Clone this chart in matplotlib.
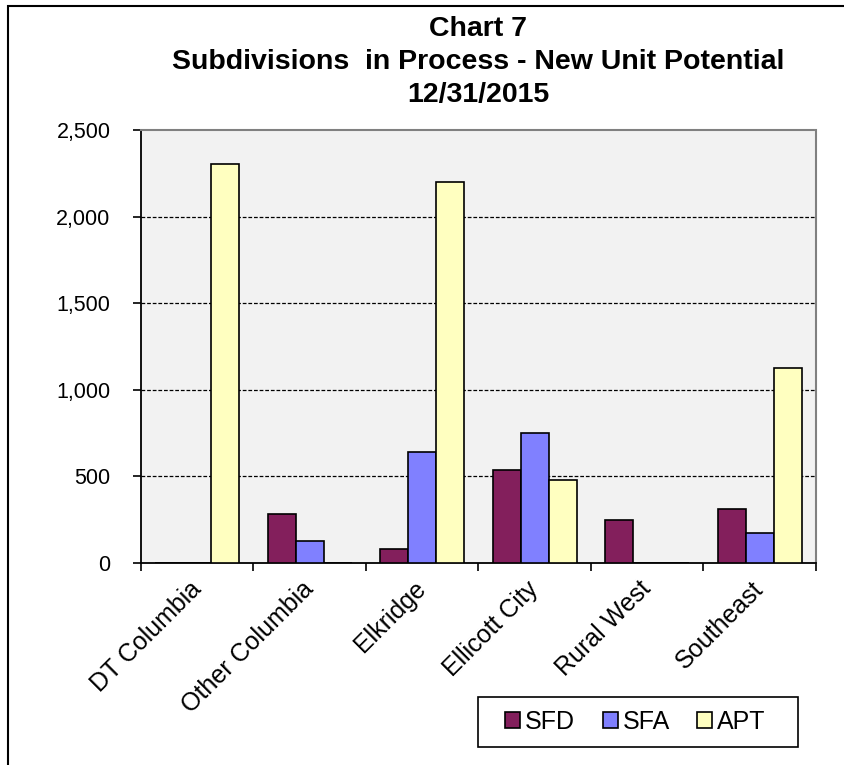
import matplotlib
matplotlib.use("Agg")
import matplotlib.pyplot as plt
import numpy as np
from matplotlib.patches import Rectangle
from matplotlib.ticker import FuncFormatter, FixedLocator

plt.rcParams['font.family'] = ['Liberation Sans', 'DejaVu Sans']

categories = ["DT Columbia", "Other Columbia", "Elkridge", "Ellicott City", "Rural West", "Southeast"]
sfd = [0, 285, 80, 537, 248, 313]
sfa = [0, 127, 639, 749, 0, 173]
apt = [2305, 0, 2198, 479, 0, 1128]
series_names = ["SFD", "SFA", "APT"]
series_colors = ["#831F5C", "#8080FF", "#FFFFC0"]
y_ticks = [0, 500, 1000, 1500, 2000, 2500]

W, H = 845, 765
fig = plt.figure(figsize=(W / 100, H / 100), dpi=100)
ax = fig.add_axes([141 / W, 1 - 563 / H, (816 - 141) / W, (563 - 130) / H])
ax.set_facecolor("#F2F2F2")

x = np.arange(len(categories))
bw = 0.25
for i, (vals, name, col) in enumerate(zip([sfd, sfa, apt], series_names, series_colors)):
    ax.bar(x + (i - 1) * bw, vals, width=bw, color=col, edgecolor="black",
           linewidth=1.2, label=name, zorder=3)

ax.set_xlim(-0.5, len(categories) - 0.5)
ax.set_ylim(0, 2500)
ax.set_yticks(y_ticks)
ax.yaxis.set_major_formatter(FuncFormatter(lambda v, p: f"{int(v):,}"))
for yv in y_ticks[1:-1]:
    ax.axhline(yv, color="black", linestyle=(0, (3, 1.5)), linewidth=0.9, zorder=1)

# category boundaries carry the tick marks, labels sit at the centers
ax.set_xticks(x)
ax.set_xticklabels(categories, rotation=45, ha="right", va="center",
                   rotation_mode="anchor", fontsize=18)
ax.xaxis.set_minor_locator(FixedLocator(np.arange(-0.5, len(categories), 1.0)))
ax.tick_params(axis="x", which="major", length=0, pad=16)
ax.tick_params(axis="x", which="minor", length=6, width=1.2, direction="out")
ax.tick_params(axis="y", length=6, width=1.2, direction="out", labelsize=15.5, pad=16)

for side in ("top", "right"):
    ax.spines[side].set_color("#808080")
    ax.spines[side].set_linewidth(1.5)
ax.spines["top"].set_linestyle((0, (2, 1)))
for side in ("left", "bottom"):
    ax.spines[side].set_color("black")
    ax.spines[side].set_linewidth(1.3)

cx = (141 + 816) / 2 / W
for txt, yp in [("Chart 7", 29), ("Subdivisions  in Process - New Unit Potential", 62), ("12/31/2015", 95)]:
    fig.text(cx, 1 - yp / H, txt, ha="center", va="center", fontsize=20.5, fontweight="bold")

# legend entries, with a plain box drawn round them
leg = fig.legend(loc="center left", bbox_to_anchor=(505 / W, 1 - 722 / H),
                 bbox_transform=fig.transFigure, borderaxespad=0, borderpad=0,
                 ncol=3, fontsize=18, frameon=False,
                 handlelength=0.6, handleheight=0.6, handletextpad=0.2,
                 columnspacing=1.1)
fig.add_artist(Rectangle((478 / W, 1 - 747 / H), (798 - 478) / W, (747 - 697) / H,
                         transform=fig.transFigure, facecolor="white",
                         edgecolor="black", linewidth=1.2, zorder=0))

# outer chart frame, running off the right and bottom edges
fig.add_artist(Rectangle((8 / W, -0.1), 2.0, 1 - 6 / H + 0.1, transform=fig.transFigure,
                         fill=False, edgecolor="black", linewidth=1.5))

fig.savefig("out.png", dpi=100)
